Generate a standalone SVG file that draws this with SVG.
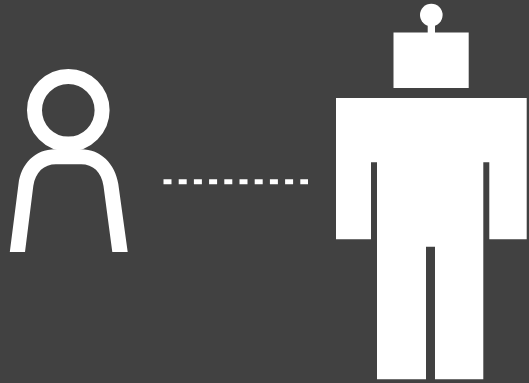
<svg xmlns="http://www.w3.org/2000/svg" width="529" height="383" viewBox="0 0 529 383">
  <style>
    .line { fill: none; stroke: #fff; stroke-width: 15; }
    .solid { fill: #fff; }
  </style>
  <rect width="529" height="383" fill="#414141"/>
  <g id="person">
    <circle class="line" cx="68.3" cy="110.3" r="33.8"/>
    <path class="solid" d="M9.8 252 H25 L33.3 186 C35.5 172 44 164.3 56 164.3 H81 C93 164.3 101.5 172 103.5 186 L112.3 252 H127.7 L118.3 184 C115 164 101 149.3 81 149.3 H55 C35 149.3 21 164 18.5 184 Z"/>
  </g>
  <g id="connectors">
    <line x1="163.5" y1="181.7" x2="308" y2="181.7" stroke="#fff" stroke-width="5" stroke-dasharray="8 7.2"/>
  </g>
  <g id="robot">
    <circle class="solid" cx="431.3" cy="15" r="11.3"/>
    <rect class="solid" x="427.7" y="20" width="7.3" height="14"/>
    <rect class="solid" x="393.5" y="32.5" width="75.2" height="55.5"/>
    <path class="solid" d="M336 98 H526.7 V239.3 H489.3 V162.3 H483.3 V379.3 H435 V246.7 H426 V379.3 H377 V162.3 H371 V239.3 H336 Z"/>
  </g>
</svg>
